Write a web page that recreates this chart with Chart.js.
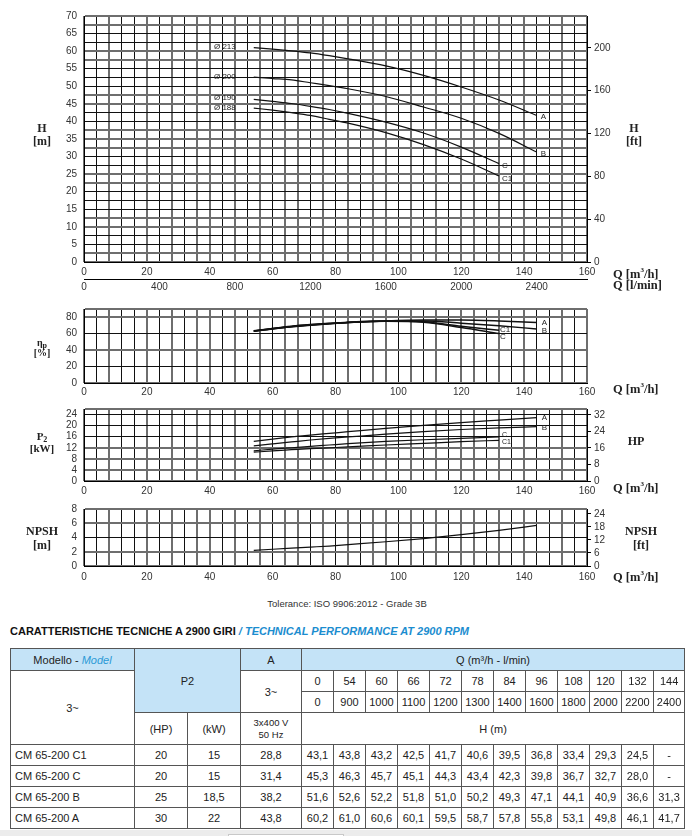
<!DOCTYPE html>
<html><head><meta charset="utf-8">
<script src="https://cdn.jsdelivr.net/npm/chart.js@4.4.0/dist/chart.umd.min.js"></script>
<style>
body{margin:0;width:692px;height:836px;position:relative;background:#fff;overflow:hidden;font-family:'Liberation Sans',Arial,sans-serif;color:#222;}
canvas{position:absolute;left:0;}
.ax{position:absolute;transform:translate(-50%,-50%);font-family:'Liberation Serif','Times New Roman',serif;font-weight:bold;font-size:12px;color:#222;white-space:nowrap;line-height:12px;}
.axl{position:absolute;transform:translate(0,-50%);font-family:'Liberation Serif','Times New Roman',serif;font-weight:bold;font-size:12.5px;color:#222;white-space:nowrap;line-height:12px;}
.sub{font-size:8px;vertical-align:-2px;}
#title{position:absolute;left:10px;top:625px;font:bold 11px 'Liberation Sans',Arial,sans-serif;color:#111;white-space:nowrap;}
#title span{color:#1b8dcf;font-style:italic;}
#tol{position:absolute;left:347px;top:603px;transform:translate(-50%,-50%);font-size:9.5px;color:#333;white-space:nowrap;}
table{position:absolute;left:10px;top:648px;border-collapse:collapse;table-layout:fixed;width:674px;font-size:11px;color:#222;}
td{border:1px solid #555;text-align:center;padding:0;white-space:nowrap;overflow:hidden;}
td.hb{background:#c4e3f7;}
td.nm{text-align:left;padding-left:4px;}
td.sm{font-size:9.5px;line-height:12px;}
i.bl{color:#2a9ad6;}
</style>
</head><body>
<canvas id="cH" width="692" height="296" style="top:0px"></canvas>
<canvas id="cE" width="692" height="100" style="top:296px"></canvas>
<canvas id="cP" width="692" height="100" style="top:396px"></canvas>
<canvas id="cN" width="692" height="90" style="top:496px"></canvas>

<div class="ax" style="left:42px;top:128px">H</div>
<div class="ax" style="left:42px;top:141px">[m]</div>
<div class="ax" style="left:634px;top:128px">H</div>
<div class="ax" style="left:634px;top:141px">[ft]</div>
<div class="axl" style="left:613px;top:272px">Q [m<sup style="font-size:7px">3</sup>/h]</div>
<div class="axl" style="left:613px;top:285px">Q [l/min]</div>

<div class="ax" style="left:42px;top:344px;font-size:10px">η<span class="sub">p</span></div>
<div class="ax" style="left:42px;top:353px;font-size:10px">[%]</div>
<div class="axl" style="left:613px;top:387px">Q [m<sup style="font-size:7px">3</sup>/h]</div>

<div class="ax" style="left:42px;top:438px;font-size:11px">P<span class="sub">2</span></div>
<div class="ax" style="left:42px;top:448px;font-size:11px">[kW]</div>
<div class="ax" style="left:636px;top:441px">HP</div>
<div class="axl" style="left:613px;top:486px">Q [m<sup style="font-size:7px">3</sup>/h]</div>

<div class="ax" style="left:42px;top:531px">NPSH</div>
<div class="ax" style="left:42px;top:545px">[m]</div>
<div class="ax" style="left:641px;top:531px">NPSH</div>
<div class="ax" style="left:641px;top:545px">[ft]</div>
<div class="axl" style="left:613px;top:575px">Q [m<sup style="font-size:7px">3</sup>/h]</div>

<div id="tol">Tolerance: ISO 9906:2012 - Grade 3B</div>
<div id="title">CARATTERISTICHE TECNICHE A 2900 GIRI <span>/ TECHNICAL PERFORMANCE AT 2900 RPM</span></div>
<table id="tbl"></table>
<div style="position:absolute;left:0;top:830px;width:692px;height:6px;background:#ececec"></div>
<div style="position:absolute;left:228px;top:834px;width:114px;height:4px;background:#fff;border:1px solid #c8c8c8"></div>

<script>
// ---------------- DATA ----------------
const TABLE_Q    = [0, 54, 60, 66, 72, 78, 84, 96, 108, 120, 132, 144];
const TABLE_LMIN = [0, 900, 1000, 1100, 1200, 1300, 1400, 1600, 1800, 2000, 2200, 2400];
const MODELS = ['CM 65-200 C1', 'CM 65-200 C', 'CM 65-200 B', 'CM 65-200 A'];
const P2_HP  = ['20', '20', '25', '30'];
const P2_KW  = ['15', '15', '18,5', '22'];
const AMPS   = ['28,8', '31,4', '38,2', '43,8'];
const H_C1 = [43.1, 43.8, 43.2, 42.5, 41.7, 40.6, 39.5, 36.8, 33.4, 29.3, 24.5, null];
const H_C  = [45.3, 46.3, 45.7, 45.1, 44.3, 43.4, 42.3, 39.8, 36.7, 32.7, 28.0, null];
const H_B  = [51.6, 52.6, 52.2, 51.8, 51.0, 50.2, 49.3, 47.1, 44.1, 40.9, 36.6, 31.3];
const H_A  = [60.2, 61.0, 60.6, 60.1, 59.5, 58.7, 57.8, 55.8, 53.1, 49.8, 46.1, 41.7];

// curves on the graphs start at 54 m3/h
const CURVE_Q = [54, 60, 66, 72, 78, 84, 96, 108, 120, 132, 144];
const EFF_A  = [63.0, 66.0, 68.5, 70.5, 72.0, 73.5, 75.5, 76.5, 76.5, 75.5, 73.7];
const EFF_B  = [62.8, 65.8, 68.3, 70.3, 72.0, 73.5, 75.3, 75.5, 72.8, 69.5, 65.8];
const EFF_C  = [63.2, 66.2, 68.8, 70.8, 72.4, 73.7, 75.0, 73.8, 67.5, 60.2, null];
const EFF_C1 = [63.5, 66.4, 69.0, 71.0, 72.6, 73.9, 75.3, 74.5, 69.0, 64.2, null];
const P2_A   = [14.3, 15.1, 15.9, 16.6, 17.2, 17.8, 19.0, 20.1, 21.1, 22.0, 22.9];
const P2_B   = [12.7, 13.4, 14.1, 14.8, 15.4, 15.9, 16.9, 17.8, 18.6, 19.2, 19.6];
const P2_C   = [10.9, 11.5, 12.0, 12.5, 13.0, 13.5, 14.3, 14.9, 15.4, 15.9, null];
const P2_C1  = [10.4, 10.9, 11.3, 11.7, 12.0, 12.3, 13.0, 13.6, 14.2, 14.7, null];
const NPSH   = [2.2, 2.35, 2.5, 2.65, 2.8, 3.0, 3.4, 3.85, 4.4, 5.0, 5.7];

// tick labels
const Q_TICKS      = [0, 20, 40, 60, 80, 100, 120, 140, 160];
const LMIN_TICKS   = [0, 400, 800, 1200, 1600, 2000, 2400];
const H_TICKS      = [0, 5, 10, 15, 20, 25, 30, 35, 40, 45, 50, 55, 60, 65, 70];
const FT_TICKS     = [0, 40, 80, 120, 160, 200];
const EFF_TICKS    = [0, 20, 40, 60, 80];
const KW_TICKS     = [0, 4, 8, 12, 16, 20, 24];
const HP_TICKS     = [0, 8, 16, 24, 32];
const NPSH_TICKS   = [0, 2, 4, 6, 8];
const NPSHFT_TICKS = [0, 6, 12, 18, 24];
const DIAMETERS    = ['Ø 213', 'Ø 200', 'Ø 190', 'Ø 188'];
const CURVE_NAMES  = ['A', 'B', 'C', 'C1'];

// unit conversions
const M_TO_FT = 3.28084, KW_TO_HP = 1 / 0.7457, M3H_TO_LMIN = 1000 / 60;

// ---------------- TABLE ----------------
(function buildTable(){
  const fmt = v => v == null ? '-' : v.toFixed(1).replace('.', ',');
  let h = '<colgroup><col style="width:124px"><col style="width:53px"><col style="width:53px"><col style="width:61px">';
  for (let i = 0; i < TABLE_Q.length; i++) h += '<col style="width:' + (i < TABLE_Q.length - 1 ? 32 : 31) + 'px">';
  h += '</colgroup>';
  h += '<tr style="height:22px"><td class="hb">Modello - <i class="bl">Model</i></td><td class="hb" colspan="2" rowspan="3">P2</td><td class="hb">A</td><td class="hb" colspan="12">Q (m³/h - l/min)</td></tr>';
  h += '<tr style="height:21px"><td rowspan="3">3~</td><td rowspan="2">3~</td>' + TABLE_Q.map(v => '<td>' + v + '</td>').join('') + '</tr>';
  h += '<tr style="height:21px">' + TABLE_LMIN.map(v => '<td>' + v + '</td>').join('') + '</tr>';
  h += '<tr style="height:32px"><td>(HP)</td><td>(kW)</td><td class="sm">3x400 V<br>50 Hz</td><td colspan="12">H (m)</td></tr>';
  const H_ROWS = [H_C1, H_C, H_B, H_A];
  MODELS.forEach((m, i) => {
    h += '<tr style="height:21px"><td class="nm">' + m + '</td><td>' + P2_HP[i] + '</td><td>' + P2_KW[i] + '</td><td>' + AMPS[i] + '</td>' +
         H_ROWS[i].map(v => '<td>' + fmt(v) + '</td>').join('') + '</tr>';
  });
  document.getElementById('tbl').innerHTML = h;
})();

// ---------------- CHARTS ----------------
Chart.defaults.font.family = "'Liberation Sans', Arial, sans-serif";
Chart.defaults.font.size = 10;
Chart.defaults.color = '#333';

function pts(ys) { return CURVE_Q.map((q, i) => ({x: q, y: ys[i]})).filter(p => p.y != null); }
function steps(max, step) { const a = []; for (let i = 0; i * step <= max + 1e-9; i++) a.push(i * step); return a; }

function gridColor(ctx) {
  if (!ctx.tick) return '#222';
  const p = ctx.scale.getPixelForValue(ctx.tick.value); const f = p - Math.floor(p);
  return (f > 0.25 && f < 0.75) ? '#111' : '#6e6e6e';
}
function gridWidth(ctx) {
  if (!ctx.tick) return 1;
  const p = ctx.scale.getPixelForValue(ctx.tick.value); const f = p - Math.floor(p);
  return (f > 0.25 && f < 0.75) ? 1 : 2;
}

function xScale(h, pad) {
  return {
    type: 'linear', position: 'bottom', min: 0, max: 160, weight: 0,
    afterBuildTicks: a => { a.ticks = steps(160, 4).map(v => ({value: v})); },
    afterFit: s => { s.height = h; },
    ticks: {autoSkip: false, maxRotation: 0, padding: pad, callback: v => Q_TICKS.includes(v) ? String(v) : ''},
    grid: {color: gridColor, lineWidth: gridWidth, drawTicks: false},
    border: {color: '#000', width: 1}
  };
}
function yLeft(max, step, labels) {
  return {
    type: 'linear', position: 'left', min: 0, max: max,
    afterBuildTicks: a => { const t = steps(max, step); if (Math.abs(t[t.length-1] - max) > 1e-6) t.push(max); a.ticks = t.map(v => ({value: v})); },
    afterFit: s => { s.width = 84; },
    ticks: {autoSkip: false, padding: 7, callback: v => labels.includes(v) ? String(v) : ''},
    grid: {color: gridColor, lineWidth: gridWidth, drawTicks: false},
    border: {color: '#000', width: 1}
  };
}
function yRight(max, labels) {
  return {
    type: 'linear', position: 'right', min: 0, max: max,
    afterBuildTicks: a => { a.ticks = labels.map(v => ({value: v})); },
    afterFit: s => { s.width = 105; },
    ticks: {autoSkip: false, padding: 3, callback: v => String(v)},
    grid: {drawOnChartArea: false, drawTicks: true, tickLength: 4, color: '#000'},
    border: {color: '#000', width: 1}
  };
}

const curveLabels = {
  id: 'curveLabels',
  afterDatasetsDraw(chart, args, opts) {
    if (!opts.items) return;
    const c = chart.ctx, xs = chart.scales.x, ys = chart.scales.y;
    c.save(); c.fillStyle = '#222'; c.textBaseline = 'middle';
    for (const l of opts.items) {
      const d = chart.data.datasets[l.ds].data;
      const p = l.at === 'start' ? d[0] : d[d.length - 1];
      c.font = (l.size || 8) + "px 'Liberation Sans', Arial, sans-serif";
      c.textAlign = l.align || 'left';
      c.fillText(l.text, xs.getPixelForValue(p.x) + l.dx, ys.getPixelForValue(p.y) + l.dy);
    }
    c.restore();
  }
};

function ds(ys, w) {
  return {data: pts(ys), borderColor: '#111', borderWidth: w || 1.2, pointRadius: 0, fill: false, cubicInterpolationMode: 'monotone'};
}
const base = (top, right) => ({
  responsive: false, animation: false, devicePixelRatio: 1,
  layout: {padding: {top: top, left: 0, right: right || 0, bottom: 0}},
  events: []
});

// H chart
new Chart(document.getElementById('cH'), {
  type: 'line',
  data: {datasets: [ds(H_A.slice(1)), ds(H_B.slice(1)), ds(H_C.slice(1)), ds(H_C1.slice(1))]},
  plugins: [curveLabels],
  options: Object.assign(base(16), {
    plugins: {legend: {display: false}, tooltip: {enabled: false},
      curveLabels: {items: [
        {ds: 0, at: 'start', text: DIAMETERS[0], dx: -18, dy: -1, align: 'right'},
        {ds: 1, at: 'start', text: DIAMETERS[1], dx: -18, dy: 0, align: 'right'},
        {ds: 2, at: 'start', text: DIAMETERS[2], dx: -18, dy: -1, align: 'right'},
        {ds: 3, at: 'start', text: DIAMETERS[3], dx: -18, dy: -0.5, align: 'right'},
        {ds: 0, at: 'end', text: CURVE_NAMES[0], dx: 4, dy: 1.5},
        {ds: 1, at: 'end', text: CURVE_NAMES[1], dx: 4, dy: 1.5},
        {ds: 2, at: 'end', text: CURVE_NAMES[2], dx: 3, dy: 2},
        {ds: 3, at: 'end', text: CURVE_NAMES[3], dx: 3, dy: 3}
      ]}},
    scales: {
      x: xScale(17, 4),
      x2: {type: 'linear', position: 'bottom', weight: 1, min: 0, max: 160 * M3H_TO_LMIN,
        afterBuildTicks: a => { a.ticks = LMIN_TICKS.map(v => ({value: v})); },
        afterFit: s => { s.height = 17; },
        ticks: {autoSkip: false, maxRotation: 0, padding: 2, callback: v => String(v)},
        grid: {display: true, drawOnChartArea: false, drawTicks: false},
        border: {display: true, color: '#000', width: 1}},
      y: yLeft(70, 2.5, H_TICKS),
      y2: yRight(70 * M_TO_FT, FT_TICKS)
    }
  })
});

// Efficiency chart
new Chart(document.getElementById('cE'), {
  type: 'line',
  data: {datasets: [ds(EFF_A, 1.5), ds(EFF_B, 1.5), ds(EFF_C, 1.5), ds(EFF_C1, 1.5)]},
  plugins: [curveLabels],
  options: Object.assign(base(7, 105), {
    plugins: {legend: {display: false}, tooltip: {enabled: false},
      curveLabels: {items: [
        {ds: 0, at: 'end', text: 'A', dx: 5, dy: 0.5},
        {ds: 1, at: 'end', text: 'B', dx: 5, dy: 1.5},
        {ds: 3, at: 'end', text: 'C1', dx: 1, dy: 0},
        {ds: 2, at: 'end', text: 'C', dx: 1, dy: 3.5}
      ]}},
    scales: {x: xScale(13, 3), y: yLeft(90, 20, EFF_TICKS)}
  })
});

// P2 chart
new Chart(document.getElementById('cP'), {
  type: 'line',
  data: {datasets: [ds(P2_A), ds(P2_B), ds(P2_C), ds(P2_C1)]},
  plugins: [curveLabels],
  options: Object.assign(base(6), {
    plugins: {legend: {display: false}, tooltip: {enabled: false},
      curveLabels: {items: [
        {ds: 0, at: 'end', text: 'A', dx: 5, dy: 0.5},
        {ds: 1, at: 'end', text: 'B', dx: 5, dy: 1},
        {ds: 2, at: 'end', text: 'C', dx: 3, dy: -2, size: 7},
        {ds: 3, at: 'end', text: 'C1', dx: 3, dy: 1.5, size: 7}
      ]}},
    scales: {x: xScale(15, 4), y: yLeft(26, 4, KW_TICKS), y2: yRight(26 * KW_TO_HP, HP_TICKS)}
  })
});

// NPSH chart
new Chart(document.getElementById('cN'), {
  type: 'line',
  data: {datasets: [ds(NPSH)]},
  options: Object.assign(base(7), {
    plugins: {legend: {display: false}, tooltip: {enabled: false}},
    scales: {x: xScale(20, 5), y: yLeft(8, 2, NPSH_TICKS), y2: yRight(8 * M_TO_FT, NPSHFT_TICKS)}
  })
});
</script>
</body></html>
